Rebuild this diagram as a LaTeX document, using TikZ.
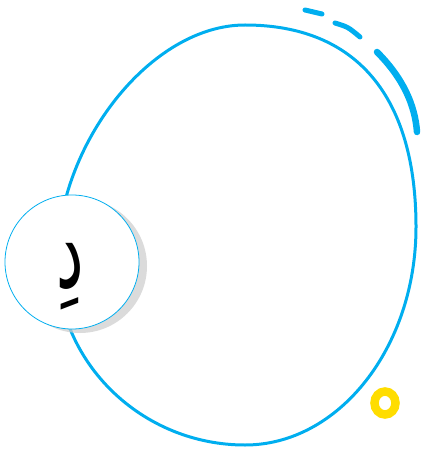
\documentclass[tikz,border=0pt]{standalone}
\usepackage{fontspec}
\usepackage{graphicx}
\usepackage{tikz}
\usetikzlibrary{shadows}
\newfontfamily\arabicfont[Script=Arabic]{DejaVu Sans}
\TeXXeTstate=1
\definecolor{orbitcyan}{RGB}{0,174,239}
\definecolor{ringyellow}{RGB}{255,221,0}
\tikzset{
  orbitline/.style={draw=orbitcyan, line width=3pt},
  motionmark/.style={draw=orbitcyan, line width=5pt, line cap=round},
  letterdisc/.style={circle, draw=orbitcyan, fill=white, line width=0.8pt,
                     minimum size=134pt, inner sep=0pt,
                     drop shadow={shadow xshift=8pt, shadow yshift=-4pt, fill=black!20, opacity=0.7}},
  letterfont/.style={font=\arabicfont\fontsize{56}{60}\selectfont, inner sep=0pt},
  ringmark/.style={draw=ringyellow, line width=8.5pt}
}

\begin{document}
\begin{tikzpicture}[x=1pt, y=-1pt]
  \useasboundingbox (0,0) rectangle (420,454);

  % Orbit
  \draw[orbitline] (245,25)
    .. controls (356,25) and (416,96) .. (416,227)
    .. controls (416,347) and (339,445) .. (245,445)
    .. controls (142,445) and (57,363) .. (57,262)
    .. controls (57,144) and (151,25) .. (245,25) -- cycle;

  % Motion marks
  \draw[motionmark] (305,10) -- (322,14);
  \draw[motionmark] (335,23) .. controls (348,27) .. (360,37);
  \draw[motionmark, line width=6.5pt] (377,52) .. controls (403,78) and (415,105) .. (417,132);

  % Letter disc
  \node[letterdisc] (disc) at (72,262) {};
  \node[letterfont] (letter) at (70,277)
    {\scalebox{1.1}[1.9]{\beginR دِ\endR}};

  % Small ring
  \draw[ringmark] (385,403) ellipse [x radius=10.5, y radius=11.5];
\end{tikzpicture}
\end{document}
